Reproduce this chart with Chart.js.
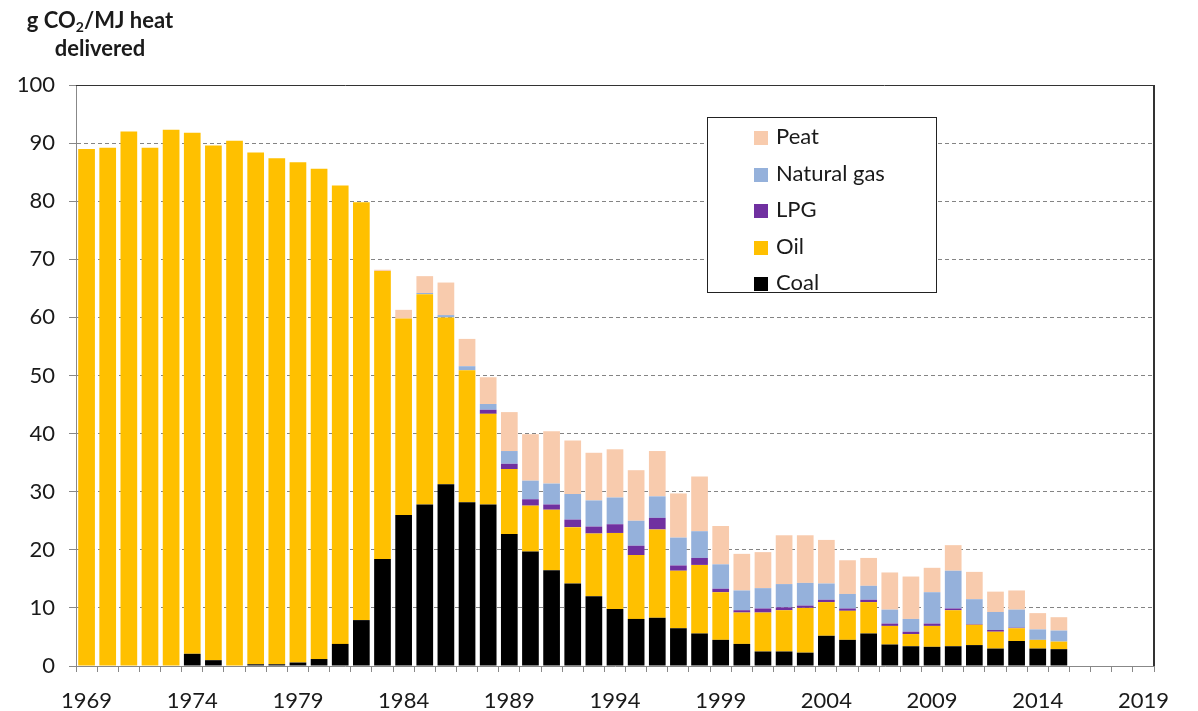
<!DOCTYPE html>
<html>
<head>
<meta charset="utf-8">
<script src="https://cdn.jsdelivr.net/npm/chart.js@4"></script>
<style>
  body { margin: 0; background: #fff; }
  #wrap { position: relative; width: 1198px; height: 711px; font-family: Lato, "Open Sans", sans-serif; color: #1a1a1a; }
  #title { position: absolute; left: 0; top: 6px; width: 200px; text-align: center; font-weight: bold; font-size: 22px; line-height: 28px; }
  #title sub { font-size: 14px; vertical-align: -4px; line-height: 0; }
  #legend { position: absolute; left: 707px; top: 117px; width: 230px; height: 176px; box-sizing: border-box; border: 1px solid #222; background: #fff; }
  .row { height: 36.5px; line-height: 36.5px; font-size: 22px; white-space: nowrap; }
  .sw { display: inline-block; width: 14px; height: 14px; margin-left: 46px; margin-right: 8px; vertical-align: -1px; }
</style>
</head>
<body>
<div id="wrap">
  <canvas id="chart" width="1198" height="711"></canvas>
  <div id="title">g CO<sub>2</sub>/MJ heat<br>delivered</div>
  <div id="legend"></div>
</div>
<script>
// Categories (years) and stacked series
const years = ['1969','1970','1971','1972','1973','1974','1975','1976','1977','1978',
  '1979','1980','1981','1982','1983','1984','1985','1986','1987','1988',
  '1989','1990','1991','1992','1993','1994','1995','1996','1997','1998',
  '1999','2000','2001','2002','2003','2004','2005','2006','2007','2008',
  '2009','2010','2011','2012','2013','2014','2015','2016','2017','2018','2019'];

const coal = [0,0,0,0,0,2.1,1.0,0,0.3,0.3,0.6,1.2,3.8,7.9,
  18.4,26.0,27.8,31.3,28.2,27.8,22.7,19.7,16.5,14.2,12.0,9.8,8.1,8.3,6.5,5.6,4.5,3.8,
  2.5,2.5,2.3,5.2,4.5,5.6,3.7,3.4,3.3,3.4,3.6,3.0,4.3,3.0,2.9];

const oil = [89.0,89.2,92.0,89.2,92.3,89.7,88.6,90.4,88.1,87.1,86.1,84.4,78.9,71.9,
  49.6,33.8,36.2,28.7,22.7,15.6,11.2,7.9,10.4,9.7,10.8,13.1,11.0,15.2,9.9,11.8,8.2,5.4,
  6.7,7.1,7.7,5.8,5.0,5.4,3.2,2.1,3.6,6.2,3.5,2.9,2.2,1.5,1.3];

const lpg = [0,0,0,0,0,0,0,0,0,0,0,0,0,0,0,0,0,0,0,
  0.7,0.9,1.1,0.9,1.3,1.2,1.5,1.6,2.0,0.9,1.2,0.6,0.4,0.7,0.5,0.4,0.4,0.4,0.4,0.4,0.4,
  0.4,0.3,0.1,0.3,0.1,0,0];

const gas = [0,0,0,0,0,0,0,0,0,0,0,0,0,0,0,0,
  0.2,0.4,0.7,1.0,2.2,3.2,3.6,4.4,4.5,4.6,4.3,3.7,4.8,4.6,4.2,3.4,3.5,4.0,3.9,2.8,
  2.5,2.4,2.4,2.2,5.4,6.5,4.3,3.1,3.1,1.8,1.9];

const peat = [0,0,0,0,0,0,0,0,0,0,0,0,0,0,
  0.2,1.5,2.9,5.6,4.7,4.6,6.7,8.0,9.0,9.2,8.2,8.3,8.7,7.8,7.6,9.4,6.6,6.3,6.2,8.4,8.2,
  7.5,5.8,4.8,6.4,7.3,4.2,4.4,4.7,3.5,3.3,2.8,2.3];

const yTicks = [0,10,20,30,40,50,60,70,80,90,100];

// bottom to top
const series = [
  { label: 'Coal', data: coal, color: '#000000' },
  { label: 'Oil', data: oil, color: '#FFC000' },
  { label: 'LPG', data: lpg, color: '#7030A0' },
  { label: 'Natural gas', data: gas, color: '#95B1DB' },
  { label: 'Peat', data: peat, color: '#F8CBAD' }
];

// HTML legend, top entry first
const legendEl = document.getElementById('legend');
series.slice().reverse().forEach(s => {
  const row = document.createElement('div');
  row.className = 'row';
  row.innerHTML = '<span class="sw" style="background:' + s.color + '"></span>' + s.label;
  legendEl.appendChild(row);
});

// Solid top and right frame lines of the plot area
const frame = {
  id: 'frame',
  afterDraw(chart) {
    const { ctx, chartArea: a } = chart;
    ctx.save();
    ctx.strokeStyle = '#333';
    ctx.lineWidth = 1;
    ctx.beginPath();
    ctx.moveTo(a.left, a.top + 0.5);
    ctx.lineTo(a.right, a.top + 0.5);
    ctx.stroke();
    ctx.lineWidth = 2;
    ctx.beginPath();
    ctx.moveTo(a.right, a.top);
    ctx.lineTo(a.right, a.bottom);
    ctx.stroke();
    ctx.restore();
  }
};

new Chart(document.getElementById('chart'), {
  type: 'bar',
  data: {
    labels: years,
    datasets: series.map(s => ({
      label: s.label,
      data: s.data,
      backgroundColor: s.color,
      borderWidth: 0,
      barPercentage: 0.79,
      categoryPercentage: 1.0
    }))
  },
  options: {
    responsive: false,
    animation: false,
    devicePixelRatio: 1,
    layout: { padding: { left: 0, top: 85, right: 44, bottom: 0 } },
    plugins: {
      legend: { display: false },
      tooltip: { enabled: false }
    },
    scales: {
      x: {
        stacked: true,
        afterFit: axis => { axis.height = 45; },
        grid: {
          offset: true,
          drawOnChartArea: false,
          drawTicks: true,
          tickLength: 6,
          tickColor: '#888'
        },
        border: { color: '#888', width: 1 },
        ticks: {
          autoSkip: false,
          maxRotation: 0,
          padding: 16,
          color: '#1a1a1a',
          font: { family: 'Lato', size: 22 },
          callback: (v, i) => (i % 5 === 0 ? years[i] : '')
        }
      },
      y: {
        stacked: true,
        min: 0,
        max: 100,
        afterBuildTicks: axis => { axis.ticks = yTicks.map(v => ({ value: v })); },
        afterFit: axis => { axis.width = 76; },
        grid: {
          color: c => (c.tick.value === 0 || c.tick.value === 100 ? 'rgba(0,0,0,0)' : '#848484'),
          tickColor: '#888',
          tickLength: 7,
          tickBorderDash: []
        },
        border: { color: '#888', width: 1, dash: [4, 3] },
        ticks: {
          padding: 14,
          color: '#1a1a1a',
          font: { family: 'Lato', size: 22 }
        }
      }
    }
  },
  plugins: [frame]
});
</script>
</body>
</html>
